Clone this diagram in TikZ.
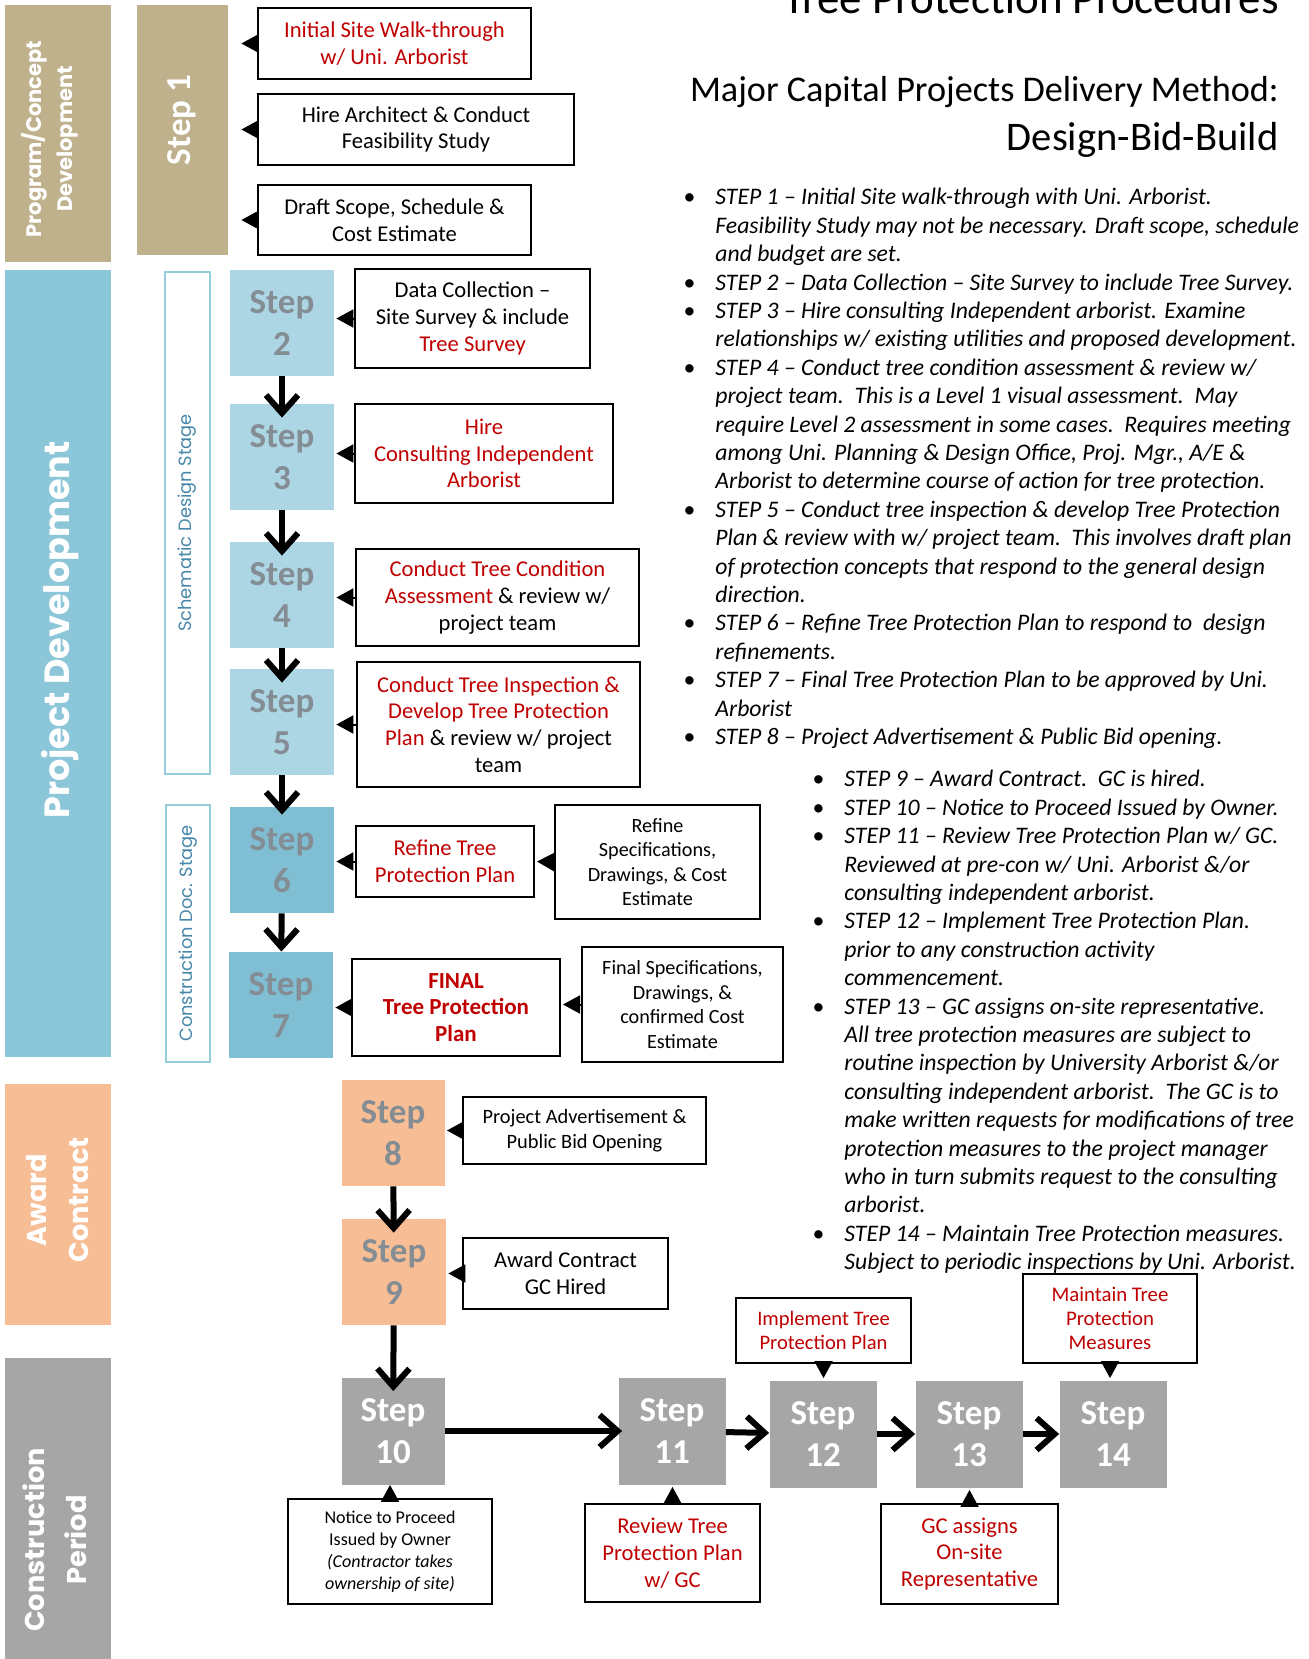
\documentclass[tikz,border=0pt]{standalone}
\usepackage{fontspec}
\setmainfont{Carlito}
\newfontfamily\bandfont{Poppins}
\usetikzlibrary{arrows.meta}

\definecolor{khaki}{RGB}{190,177,140}
\definecolor{paleblue}{RGB}{172,214,228}
\definecolor{midblue}{RGB}{128,190,211}
\definecolor{bandblue}{RGB}{140,199,217}
\definecolor{peach}{RGB}{247,190,150}
\definecolor{slate}{RGB}{166,166,166}
\definecolor{stepgray}{RGB}{132,140,148}
\definecolor{stagetxt}{RGB}{70,135,170}
\definecolor{stageline}{RGB}{150,205,222}
\definecolor{darkred}{RGB}{192,0,0}

\newcommand{\rd}[1]{\textcolor{darkred}{#1}}
\newcommand{\bul}{\llap{\upshape\textbullet\hspace{10pt}}}

\begin{document}
\begin{tikzpicture}
	[x=0.5pt,y=-0.5pt,
	 sz/.style 2 args={minimum width=#1*0.5pt,minimum height=#2*0.5pt},
	 band/.style={fill=#1,inner sep=0},
	 bandtxt/.style={rotate=90,text=white,align=center,inner sep=0,
	   font=\bandfont\bfseries\fontsize{13.6}{21}\selectfont},
	 stepbox/.style={fill=#1,inner sep=0,sz={104}{106},align=center,text=stepgray,
	   font=\fontsize{17.5}{21}\selectfont\bfseries},
	 desc/.style={draw,line width=1pt,fill=white,inner sep=0,align=center,
	   font=\fontsize{11.3}{13.4}\selectfont},
	 small/.style={font=\fontsize{10.1}{12.2}\selectfont},
	 stage/.style={draw=stageline,line width=0.8pt,inner sep=0,text=stagetxt,rotate=90,
	   font=\bandfont\fontsize{8.9}{10}\selectfont},
	 flow/.style={line width=3pt,-{Straight Barb[length=9pt,width=16pt]},shorten >=-7pt},
	 ptr/.style={line width=1pt,-{Triangle[length=8.5pt,width=9pt]},shorten >=1pt},
	 bullets/.style={anchor=north west,align=left,inner sep=0,
	   font=\fontsize{11.85}{14.2}\selectfont\itshape}]

\fill[white] (0,0) rectangle (1308,1659);
\useasboundingbox (0,0) rectangle (1308,1659);

% titles
\node[anchor=base east,inner sep=0,font=\fontsize{22.5}{25}\selectfont] (title) at (1279,14) {Tree Protection Procedures};
\node[anchor=base east,inner sep=0,font=\fontsize{18.1}{20}\selectfont] (method) at (1279,102) {Major Capital Projects Delivery Method:};
\node[anchor=base east,inner sep=0,font=\fontsize{20.3}{25}\selectfont] (dbb) at (1279,150) {Design-Bid-Build};

% phase bands
\node[band=khaki,sz={106}{257}] (program) at (58,133.5) {};
\node[bandtxt,font=\bandfont\bfseries\fontsize{10.5}{15.5}\selectfont] (programtxt) at (50,139) {Program/Concept\\Development};
\node[band=bandblue,sz={106}{787}] (projdev) at (58,663.5) {};
\node[bandtxt,font=\bandfont\bfseries\fontsize{17.5}{21}\selectfont] (projdevtxt) at (60,630) {Project Development};
\node[band=peach,sz={106}{241}] (award) at (58,1204.5) {};
\node[bandtxt] (awardtxt) at (58,1200) {Award\\Contract};
\node[band=slate,sz={106}{364}] (constr) at (58,1540) {};
\node[bandtxt] (constrtxt) at (55,1540) {Construction\\Period};

% stages
\node[stage,sz={502}{45}] (schem) at (187.5,523) {Schematic Design Stage};
\node[stage,sz={257}{44}] (cdoc) at (188,933.5) {Construction Doc. Stage};

% bullet text
\node[bullets] (notesA) at (715,188) {%
\bul STEP 1 -- Initial Site walk-through with Uni. Arborist.\\
Feasibility Study may not be necessary. Draft scope, schedule\\
and budget are set.\\
\bul STEP 2 -- Data Collection -- Site Survey to include Tree Survey.\\
\bul STEP 3 -- Hire consulting Independent arborist. Examine\\
relationships w/ existing utilities and proposed development.\\
\bul STEP 4 -- Conduct tree condition assessment \& review w/\\
project team.\ \ This is a Level 1 visual assessment.\ \ May\\
require Level 2 assessment in some cases.\ \ Requires meeting\\
among Uni. Planning \& Design Office, Proj. Mgr., A/E \&\\
Arborist to determine course of action for tree protection.\\
\bul STEP 5 -- Conduct tree inspection \& develop Tree Protection\\
Plan \& review with w/ project team.\ \ This involves draft plan\\
of protection concepts that respond to the general design\\
direction.\\
\bul STEP 6 -- Refine Tree Protection Plan to respond to\ \ design\\
refinements.\\
\bul STEP 7 -- Final Tree Protection Plan to be approved by Uni.\\
Arborist\\
\bul STEP 8 -- Project Advertisement \& Public Bid opening.};

\node[bullets] (notesB) at (844,770) {%
\bul STEP 9 -- Award Contract.\ \ GC is hired.\\
\bul STEP 10 -- Notice to Proceed Issued by Owner.\\
\bul STEP 11 -- Review Tree Protection Plan w/ GC.\\
Reviewed at pre-con w/ Uni. Arborist \&/or\\
consulting independent arborist.\\
\bul STEP 12 -- Implement Tree Protection Plan.\\
prior to any construction activity\\
commencement.\\
\bul STEP 13 -- GC assigns on-site representative.\\
All tree protection measures are subject to\\
routine inspection by University Arborist \&/or\\
consulting independent arborist.\ \ The GC is to\\
make written requests for modifications of tree\\
protection measures to the project manager\\
who in turn submits request to the consulting\\
arborist.\\
\bul STEP 14 -- Maintain Tree Protection measures.\\
Subject to periodic inspections by Uni. Arborist.};

% step boxes
\node[fill=khaki,inner sep=0,sz={91}{250}] (s1) at (182.5,130) {};
\node[rotate=90,text=white,font=\fontsize{17.5}{21}\selectfont\bfseries] (s1txt) at (182,120) {Step 1};
\node[stepbox=paleblue] (s2) at (282,323) {Step\\2};
\node[stepbox=paleblue] (s3) at (282,457) {Step\\3};
\node[stepbox=paleblue] (s4) at (282,595) {Step\\4};
\node[stepbox=paleblue] (s5) at (282,722) {Step\\5};
\node[stepbox=midblue] (s6) at (282,860) {Step\\6};
\node[stepbox=midblue] (s7) at (281,1005) {Step\\7};
\node[stepbox=peach,sz={103}{106}] (s8) at (393,1133) {Step\\8};
\node[stepbox=peach,sz={104}{106}] (s9) at (394,1272) {Step\\9};
\node[stepbox=slate,sz={103}{107},text=white] (s10) at (393,1431) {Step\\10};
\node[stepbox=slate,sz={107}{107},text=white] (s11) at (672,1431) {Step\\11};
\node[stepbox=slate,sz={107}{107},text=white] (s12) at (823,1434) {Step\\12};
\node[stepbox=slate,sz={107}{107},text=white] (s13) at (969,1434) {Step\\13};
\node[stepbox=slate,sz={107}{107},text=white] (s14) at (1113,1434) {Step\\14};

% description boxes
\node[desc,sz={273}{71},text=darkred] (d1a) at (394.5,43.5) {Initial Site Walk-through\\w/ Uni. Arborist};
\node[desc,sz={316}{71}] (d1b) at (416,129.5) {Hire Architect \& Conduct\\Feasibility Study};
\node[desc,sz={273}{70}] (d1c) at (394.5,220) {Draft Scope, Schedule \&\\Cost Estimate};
\node[desc,sz={235}{99}] (d2) at (472.5,318.5) {Data Collection --\\Site Survey \& include\\\rd{Tree Survey}};
\node[desc,sz={258}{99},text=darkred] (d3) at (484,453.5) {Hire\\Consulting Independent\\Arborist};
\node[desc,sz={283}{97}] (d4) at (497.5,597.5) {\rd{Conduct Tree Condition}\\\rd{Assessment} \& review w/\\project team};
\node[desc,sz={283}{125}] (d5) at (498.5,724.5) {\rd{Conduct Tree Inspection \&}\\\rd{Develop Tree Protection}\\\rd{Plan} \& review w/ project\\team};
\node[desc,sz={178}{71},text=darkred] (d6) at (445,861.5) {Refine Tree\\Protection Plan};
\node[desc,small,sz={205}{114}] (d6b) at (657.5,862) {Refine\\Specifications,\\Drawings, \& Cost\\Estimate};
\node[desc,sz={208}{97},text=darkred,font=\fontsize{11.5}{13.4}\selectfont\bfseries] (d7) at (456,1007.5) {FINAL\\Tree Protection\\Plan};
\node[desc,small,sz={201}{115}] (d7b) at (682.5,1004.5) {Final Specifications,\\Drawings, \&\\confirmed Cost\\Estimate};
\node[desc,font=\fontsize{10.2}{12.4}\selectfont,sz={243}{67}] (d8) at (584.5,1130.5) {Project Advertisement \&\\Public Bid Opening};
\node[desc,sz={205}{71}] (d9) at (565.5,1273.5) {Award Contract\\GC Hired};
\node[desc,font=\fontsize{9}{11}\selectfont,sz={204}{105}] (d10) at (390,1551.5) {Notice to Proceed\\Issued by Owner\\\textit{(Contractor takes}\\\textit{ownership of site)}};
\node[desc,sz={175}{98},text=darkred] (d11) at (672.5,1553) {Review Tree\\Protection Plan\\w/ GC};
\node[desc,font=\fontsize{10.3}{12.2}\selectfont,sz={175}{65},text=darkred] (d12) at (823.5,1330.5) {Implement Tree\\Protection Plan};
\node[desc,sz={177}{100},text=darkred] (d13) at (969.5,1554) {GC assigns\\On-site\\Representative};
\node[desc,font=\fontsize{10.4}{12.2}\selectfont,sz={174}{89},text=darkred] (d14) at (1110,1318.5) {Maintain Tree\\Protection\\Measures};

% flow arrows
\draw[flow] (s2) -- (s3);
\draw[flow] (s3) -- (s4);
\draw[flow] (s4) -- (s5);
\draw[flow,shorten >=-4pt] (s5) -- (s6);
\draw[flow,shorten >=0pt] (s6) -- (s7);
\draw[flow] (s8) -- (s9);
\draw[flow] (s9) -- (s10);
\draw[flow,shorten >=-2pt] (s10) -- (s11);
\draw[flow,shorten >=0pt] (s11) -- (s12);
\draw[flow,shorten >=0pt] (s12) -- (s13);
\draw[flow,shorten >=0pt] (s13) -- (s14);

% pointers
\foreach \dd in {d1a,d1b,d1c}
{
 \draw[ptr,shorten >=6.5pt] (\dd.west) -- (s1.east |- \dd.west);
}
\foreach \dd/\ss in {d2/s2,d3/s3,d4/s4,d5/s5,d6/s6,d7/s7,d8/s8,d9/s9}
{
 \draw[ptr] (\dd.west) -- (\ss.east |- \dd.west);
}
\draw[ptr] (d6b.west) -- (d6.east);
\draw[ptr] (d7b.west) -- (d7.east |- d7b.west);
\draw[ptr,shorten >=0pt] (d10.north) -- (d10.north |- s10.south);
\draw[ptr] (d11.north) -- (d11.north |- s11.south);
\draw[ptr] (d13.north) -- (d13.north |- s13.south);
\draw[ptr] (d12.south) -- (d12.south |- s12.north);
\draw[ptr] (d14.south) -- (d14.south |- s14.north);

\end{tikzpicture}
\end{document}
